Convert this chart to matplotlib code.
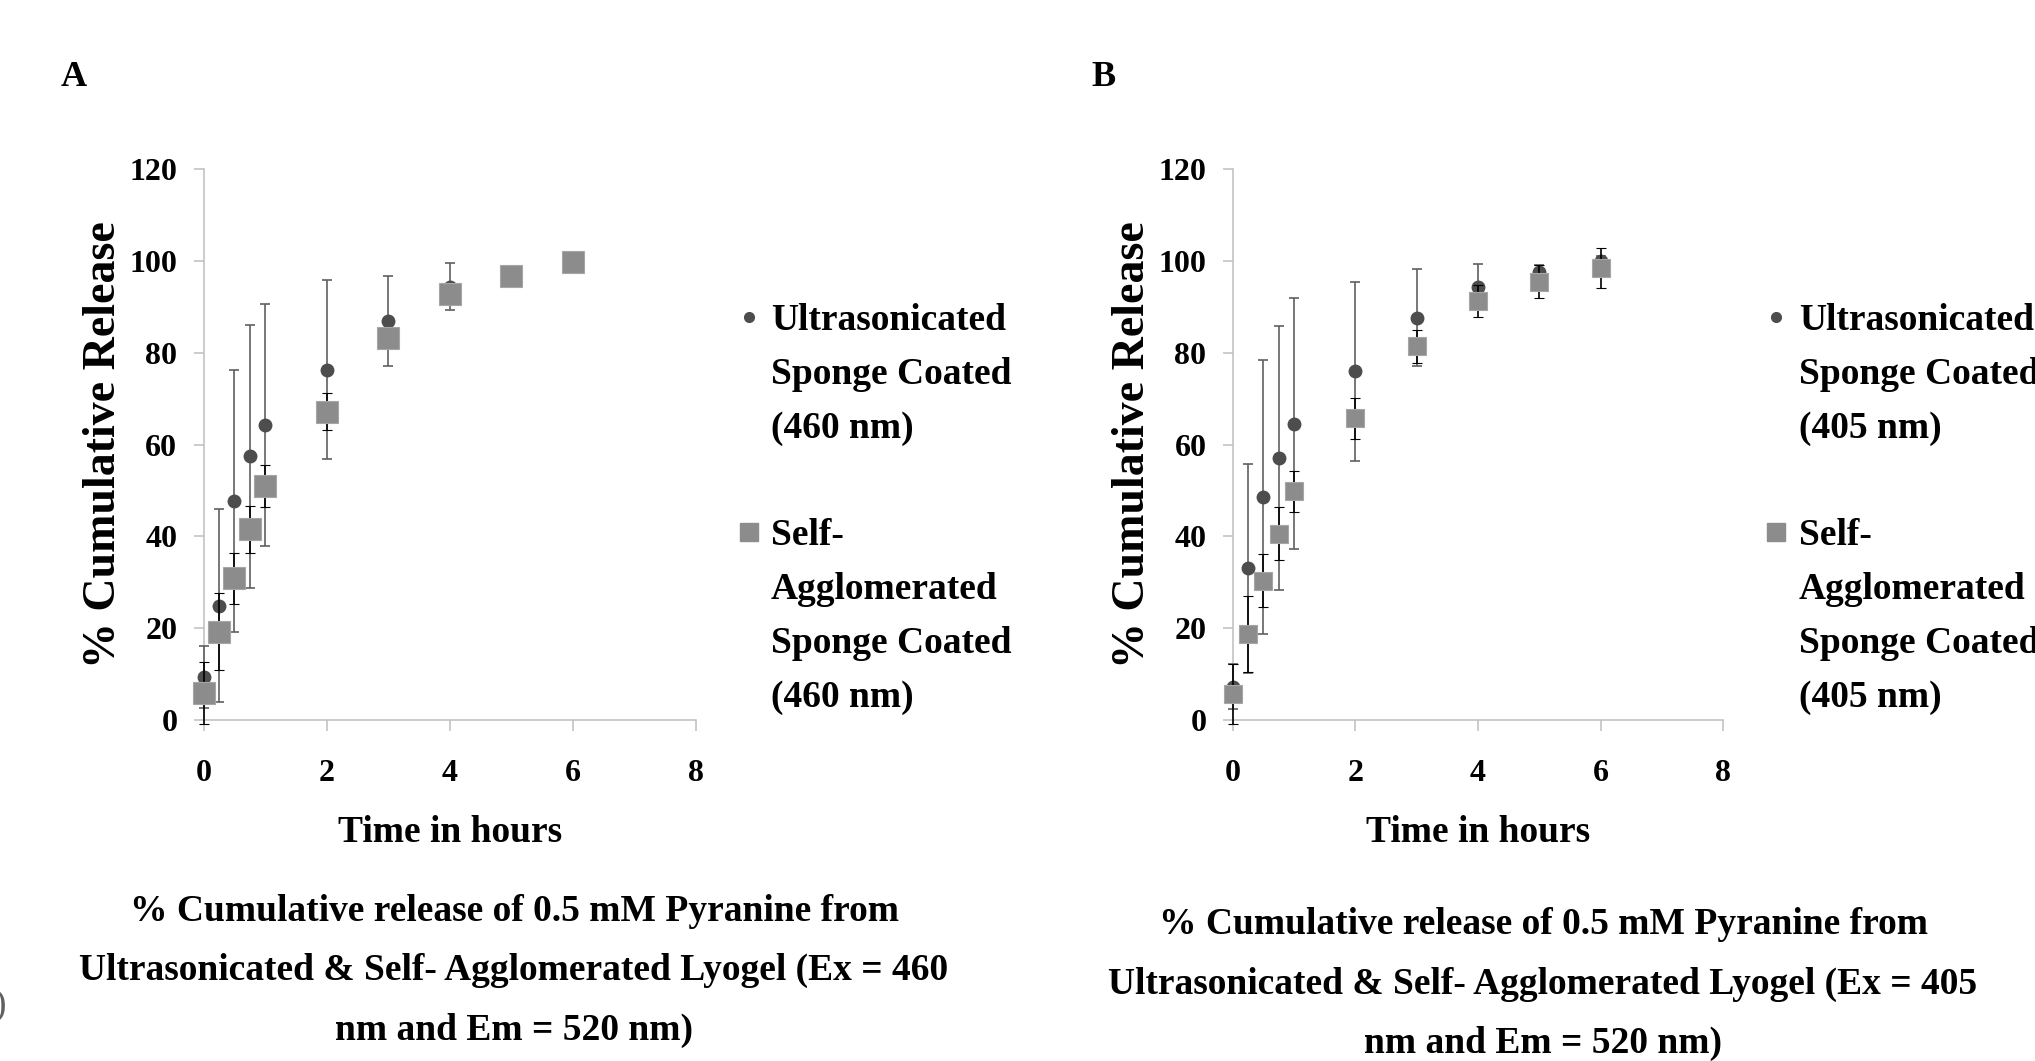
import matplotlib
matplotlib.use('Agg')
import matplotlib.pyplot as plt
from matplotlib.lines import Line2D

plt.rcParams['font.family'] = ['Liberation Serif', 'DejaVu Serif']
plt.rcParams['font.weight'] = 'bold'
plt.rcParams['axes.labelweight'] = 'bold'

# sampling times (hours)
hours = [0, 0.25, 0.5, 0.75, 1, 2, 3, 4, 5, 6]

# panel A : Ex 460 nm
ultra_460 = [9.4, 24.9, 47.8, 57.4, 64.2, 76.3, 86.9, 94.3, 97.0, 99.8]
ultra_460_err = [6.7, 21.0, 28.5, 28.7, 26.3, 19.5, 9.8, 5.1, 1.5, 1.0]
self_460 = [5.9, 19.3, 30.9, 41.6, 51.0, 67.1, 83.1, 92.7, 96.7, 99.8]
self_460_err = [6.7, 8.3, 5.5, 5.1, 4.5, 4.0, 2.0, 1.5, 1.0, 1.0]

# panel B : Ex 405 nm
ultra_405 = [7.3, 33.1, 48.6, 57.1, 64.5, 75.9, 87.6, 94.3, 97.5, 100.0]
ultra_405_err = [4.9, 22.7, 29.8, 28.7, 27.3, 19.5, 10.6, 5.0, 1.5, 1.0]
self_405 = [5.7, 18.8, 30.4, 40.6, 49.8, 65.7, 81.4, 91.3, 95.4, 98.4]
self_405_err = [6.5, 8.2, 5.7, 5.7, 4.5, 4.4, 3.6, 3.5, 3.6, 4.3]

xticks = [0, 2, 4, 6, 8]
yticks = [0, 20, 40, 60, 80, 100, 120]

dark = '#4d4d4d'
light = '#8c8c8c'
axis_grey = '#bfbfbf'

caption = ('% Cumulative release of 0.5 mM Pyranine from\n'
           'Ultrasonicated & Self- Agglomerated Lyogel (Ex = {}\n'
           'nm and Em = 520 nm)')

panels = [
    dict(letter='A', nm='460', pos=[0.1001, 0.3211, 0.2417, 0.5199],
         ultra=ultra_460, ultra_err=ultra_460_err, sa=self_460, sa_err=self_460_err,
         sq=16, letter_xy=(74, 78), cap_xy=(514, 971)),
    dict(letter='B', nm='405', pos=[0.6058, 0.3211, 0.2411, 0.5199],
         ultra=ultra_405, ultra_err=ultra_405_err, sa=self_405, sa_err=self_405_err,
         sq=13, letter_xy=(1104, 78), cap_xy=(1543, 984)),
]

W, H = 2035, 1061
fig = plt.figure(figsize=(W / 100, H / 100), dpi=100)

for p in panels:
    ax = fig.add_axes(p['pos'])

    ax.errorbar(hours, p['ultra'], yerr=p['ultra_err'], fmt='o', color=dark,
                ms=9, mec=dark, ecolor='#606060', elinewidth=1.2, capsize=3.6,
                capthick=1.2, clip_on=False, zorder=3)
    ax.errorbar(hours, p['sa'], yerr=p['sa_err'], fmt='s', color=light,
                ms=p['sq'], mec='#a6a6a6', mew=0.8, ecolor='black', elinewidth=1.2,
                capsize=3.6, capthick=1.2, clip_on=False, zorder=4)

    ax.set_xlim(0, 8)
    ax.set_ylim(0, 120)
    ax.set_xticks(xticks)
    ax.set_yticks(yticks)
    for s in ['top', 'right']:
        ax.spines[s].set_visible(False)
    for s in ['left', 'bottom']:
        ax.spines[s].set_color(axis_grey)
        ax.spines[s].set_linewidth(1.1)
    ax.tick_params(axis='y', length=7, width=1.1, color=axis_grey, pad=12, labelsize=23)
    ax.tick_params(axis='x', length=8, width=1.1, color=axis_grey, pad=20, labelsize=23)

    ax.set_xlabel('Time in hours', fontsize=27, fontweight='bold')
    ax.xaxis.set_label_coords(0.5, -0.172)
    ax.set_ylabel('% Cumulative Release', fontsize=33, fontweight='bold')
    ax.yaxis.set_label_coords(-0.16, 0.5)

    blank = Line2D([], [], linestyle='none')
    handles = [Line2D([], [], linestyle='none', marker='o', color=dark, ms=7),
               blank, blank, blank,
               Line2D([], [], linestyle='none', marker='s', color=light, ms=13),
               blank, blank, blank]
    labels = ['Ultrasonicated', 'Sponge Coated', '(%s nm)' % p['nm'], '',
              'Self-', 'Agglomerated', 'Sponge Coated', '(%s nm)' % p['nm']]
    ax.legend(handles, labels, loc='upper left', bbox_to_anchor=(1.085, 0.756),
              frameon=False, borderpad=0, borderaxespad=0, handlelength=0.6,
              handletextpad=0.3, labelspacing=0.5,
              prop={'size': 27, 'weight': 'bold'})

    lx, ly = p['letter_xy']
    fig.text(lx / W, 1 - ly / H, p['letter'], fontsize=26, ha='center', va='center')
    cx, cy = p['cap_xy']
    fig.text(cx / W, 1 - cy / H, caption.format(p['nm']), fontsize=27,
             ha='center', va='center', multialignment='center', linespacing=1.9)

# fragment of the neighbouring figure at the left edge
fig.text(0.0, 1 - 1006 / H, ')', fontsize=27, fontweight='normal', color='#606060',
         ha='center', va='center')

fig.savefig('out.png', dpi=100)
